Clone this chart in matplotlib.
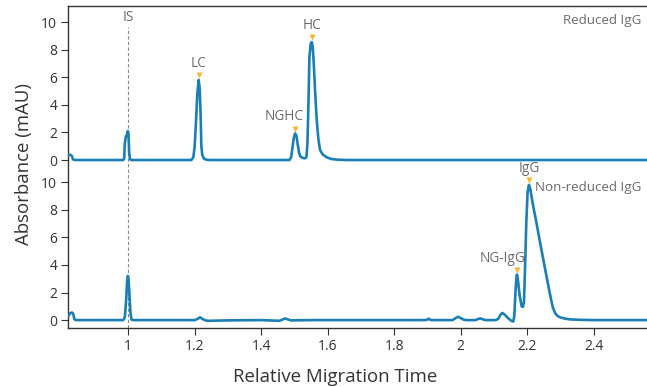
import matplotlib
matplotlib.use("Agg")
import matplotlib.pyplot as plt
import numpy as np

plt.rcParams['font.family'] = ['Open Sans', 'DejaVu Sans']

# ---- data: reduced IgG trace (top) ----
red_x = [0.820, 0.826, 0.830, 0.834, 0.840, 0.985, 0.988, 0.990, 0.993, 0.996, 0.999, 1.001,
         1.003, 1.006, 1.010, 1.190, 1.196, 1.200, 1.204, 1.208, 1.212, 1.215, 1.218, 1.220,
         1.223, 1.228, 1.235, 1.245, 1.485, 1.490, 1.494, 1.498, 1.502, 1.506, 1.510, 1.514,
         1.518, 1.525, 1.532, 1.536, 1.539, 1.542, 1.545, 1.549, 1.552, 1.555, 1.558, 1.562,
         1.567, 1.572, 1.577, 1.585, 1.597, 1.610, 1.630, 1.660, 2.560]
red_y = [0.35, 0.38, 0.33, 0.05, 0.0, 0.0, 0.1, 1.2, 1.7, 1.8, 2.1, 1.9,
         0.5, 0.05, 0.0, 0.0, 0.2, 1.0, 2.8, 4.8, 5.8, 5.2, 3.2, 1.0,
         0.35, 0.1, 0.02, 0.0, 0.0, 0.2, 0.9, 1.6, 1.93, 1.75, 1.1, 0.5,
         0.25, 0.15, 0.13, 0.2, 1.2, 4.0, 7.5, 8.45, 8.55, 8.2, 7.0, 5.0,
         2.9, 1.5, 0.72, 0.4, 0.2, 0.08, 0.02, 0.0, 0.0]

# ---- data: non-reduced IgG trace (bottom) ----
non_x = [0.820, 0.826, 0.831, 0.835, 0.838, 0.842, 0.985, 0.990, 0.994, 0.997, 0.999, 1.001,
         1.004, 1.007, 1.010, 1.015, 1.200, 1.208, 1.216, 1.224, 1.232, 1.240, 1.300, 1.400,
         1.455, 1.465, 1.472, 1.480, 1.490, 1.550, 1.895, 1.900, 1.904, 1.908, 1.912, 1.975,
         1.985, 1.992, 2.000, 2.010, 2.020, 2.045, 2.052, 2.059, 2.066, 2.075, 2.105, 2.113,
         2.120, 2.125, 2.132, 2.142, 2.152, 2.158, 2.161, 2.164, 2.167, 2.169, 2.172, 2.177,
         2.183, 2.187, 2.190, 2.193, 2.197, 2.201, 2.205, 2.209, 2.216, 2.228, 2.241, 2.256,
         2.269, 2.277, 2.284, 2.291, 2.301, 2.315, 2.330, 2.360, 2.400, 2.560]
non_y = [0.3, 0.5, 0.55, 0.45, 0.1, 0.0, 0.0, 0.2, 1.5, 2.8, 3.2, 3.0,
         1.8, 0.5, 0.05, 0.0, 0.0, 0.08, 0.2, 0.08, -0.02, -0.05, -0.02, 0.0,
         -0.05, 0.05, 0.12, 0.05, -0.02, 0.0, 0.0, 0.05, 0.1, 0.03, 0.0, 0.0,
         0.15, 0.24, 0.15, 0.02, 0.0, 0.0, 0.08, 0.12, 0.06, 0.0, 0.0, 0.1,
         0.4, 0.52, 0.4, 0.15, -0.05, -0.1, 0.3, 1.8, 3.0, 3.3, 2.9, 1.8,
         1.0, 0.96, 1.3, 3.5, 7.0, 9.3, 9.8, 9.5, 8.5, 7.0, 5.3, 3.4,
         1.8, 0.9, 0.5, 0.3, 0.18, 0.1, 0.05, 0.02, 0.0, 0.0]

red_peak_labels = ["LC", "NGHC", "HC"]
red_peak_x = [1.212, 1.502, 1.552]
non_peak_labels = ["NG-IgG", "IgG"]
non_peak_x = [2.169, 2.205]
is_x = 1.0
y_ticks = [0, 2, 4, 6, 8, 10]
x_ticks = [1, 1.2, 1.4, 1.6, 1.8, 2, 2.2, 2.4]
x_ticklabels = ["1", "1.2", "1.4", "1.6", "1.8", "2", "2.2", "2.4"]

offset = 11.6          # vertical offset of the reduced trace
line_c = "#1a7fb5"
txt_c = "#6b6b6b"
ax_c = "#333333"
tri_c = "#f5b731"

fig = plt.figure(figsize=(6.47, 3.87), dpi=100)
ax = fig.add_axes([68.3 / 647, 1 - 327.7 / 387, 1 - 68.3 / 647, (327.7 - 6) / 387])

ax.plot(non_x, non_y, color=line_c, lw=1.9, solid_joinstyle='round', zorder=3)
ax.plot(red_x, np.array(red_y) + offset, color=line_c, lw=1.9, solid_joinstyle='round', zorder=3)

ax.set_xlim(0.82, 2.56)
ax.set_ylim(-0.55, offset + 11.16)

# internal standard dashed line
ax.plot([is_x, is_x], [-0.55, offset + 9.65], color="#8a8a8a", lw=0.8, ls=(0, (3, 2)), zorder=1)
ax.text(is_x, offset + 10.3, "IS", ha='center', va='center', fontsize=9.8, color=txt_c)

def annotate(lbl, px, xs, ys, base, ha):
    py = np.interp(px, xs, ys) + base
    ax.plot([px], [py + 0.33], marker='v', ms=4.5, color=tri_c, mec='none', zorder=4)
    if ha == 'center':
        ax.annotate(lbl, (px, py), xytext=(0, 6.5), textcoords='offset points',
                    ha='center', va='bottom', fontsize=9.8, color=txt_c)
    else:
        ax.annotate(lbl, (px, py), xytext=(6, 6.5), textcoords='offset points',
                    ha='right', va='bottom', fontsize=9.8, color=txt_c)

for lbl, px in zip(red_peak_labels, red_peak_x):
    annotate(lbl, px, red_x, red_y, offset, 'right' if lbl == "NGHC" else 'center')
for lbl, px in zip(non_peak_labels, non_peak_x):
    annotate(lbl, px, non_x, non_y, 0, 'right' if lbl == "NG-IgG" else 'center')

ax.text(0.99, 0.955, "Reduced IgG", transform=ax.transAxes, ha='right', va='center',
        fontsize=9.6, color=txt_c)
ax.text(2.223, 9.6, "Non-reduced IgG", ha='left', va='center', fontsize=9.6, color=txt_c)

ax.set_yticks(y_ticks + [t + offset for t in y_ticks])
ax.set_yticklabels([str(t) for t in y_ticks] * 2)
ax.set_xticks(x_ticks)
ax.set_xticklabels(x_ticklabels)
ax.tick_params(direction='out', length=5, width=0.8, color=ax_c, labelcolor=ax_c,
               labelsize=10, pad=3)

for s in ['left', 'bottom', 'top']:
    ax.spines[s].set_color(ax_c)
    ax.spines[s].set_linewidth(1.0)
ax.spines['right'].set_visible(False)

fig.text(335 / 647, 1 - 377 / 387, "Relative Migration Time", ha='center', va='center',
         fontsize=13.4, color=ax_c)
fig.text(24 / 647, 1 - 164 / 387, "Absorbance (mAU)", ha='center', va='center',
         rotation=90, fontsize=13.4, color=ax_c)

fig.savefig("out.png", dpi=100)
